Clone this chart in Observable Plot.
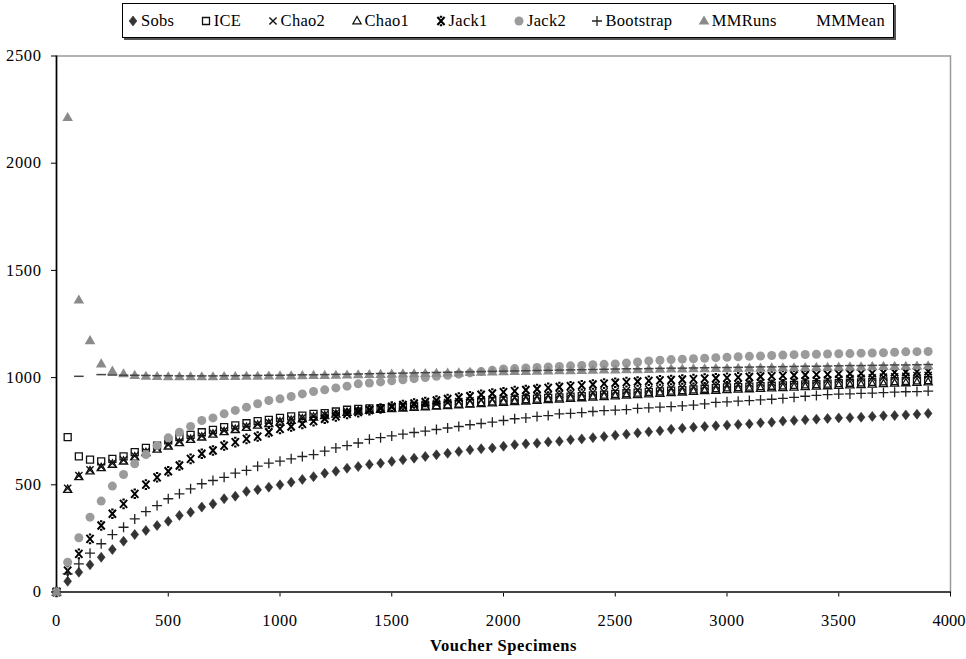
<!DOCTYPE html>
<html><head><meta charset="utf-8">
<script src="https://cdn.jsdelivr.net/npm/d3@7"></script>
<script src="https://cdn.jsdelivr.net/npm/@observablehq/plot@0.6"></script>
<style>
body{margin:0;background:#fff;font-family:"Liberation Serif","Times New Roman",serif;}
#wrap{position:relative;width:966px;height:659px;overflow:hidden;background:#fff}
#legend{position:absolute;left:122px;top:3px;width:772px;height:35px;border:1.5px solid #000;box-shadow:2px 2px 0 #555;display:flex;align-items:center;justify-content:space-between;padding:0 8px 0 4px;box-sizing:border-box;font-size:16.5px;letter-spacing:0.3px;color:#000}
.item{display:flex;align-items:center;white-space:nowrap}
.item svg{margin-right:2px;overflow:visible}
#chart{position:absolute;left:0;top:45px}
#chart svg text{letter-spacing:0.6px}
</style></head><body>
<div id="wrap"><div id="legend"></div><div id="chart"></div></div>
<script>
const specimens = [0,50,100,150,200,250,300,350,400,450,
 500,550,600,650,700,750,800,850,900,950,
 1000,1050,1100,1150,1200,1250,1300,1350,1400,1450,
 1500,1550,1600,1650,1700,1750,1800,1850,1900,1950,
 2000,2050,2100,2150,2200,2250,2300,2350,2400,2450,
 2500,2550,2600,2650,2700,2750,2800,2850,2900,2950,
 3000,3050,3100,3150,3200,3250,3300,3350,3400,3450,
 3500,3550,3600,3650,3700,3750,3800,3850,3900];

const sobs = [0,50,92,127,162,198,237,268,287,310,
 330,357,372,396,411,435,447,469,477,489,
 500,512,525,538,554,563,577,585,595,601,
 609,617,624,632,640,647,655,663,668,672,
 680,687,691,694,700,703,710,714,720,725,
 731,736,742,747,752,759,764,769,772,775,
 778,781,784,789,792,797,800,803,806,809,
 812,813,815,819,822,823,826,829,833];

const ice = [0,722,633,617,609,621,633,652,672,683,
 707,722,733,745,756,769,777,787,797,803,
 812,819,823,831,834,842,850,854,856,858,
 860,863,866,869,872,875,878,881,885,889,
 893,896,899,902,905,908,911,914,917,921,
 924,927,930,933,936,939,942,945,948,951,
 954,956,958,960,962,964,966,968,970,972,
 974,976,978,980,982,984,985,987,988];

const chao2 = [0,484,543,570,585,601,616,635,655,671,
 686,702,717,728,741,753,763,773,783,791,
 798,806,813,821,828,835,842,848,852,857,
 862,866,871,875,880,884,888,892,896,900,
 904,908,912,915,918,922,925,928,931,934,
 937,940,943,946,949,952,955,958,961,964,
 967,969,972,975,977,980,982,985,987,990,
 992,995,997,999,1002,1004,1006,1009,1011];

const chao1 = [0,478,537,564,579,595,610,629,649,665,
 680,696,711,722,735,747,757,767,777,785,
 792,800,807,815,822,829,837,843,848,851,
 854,857,860,863,866,869,872,875,878,881,
 884,887,890,893,896,899,902,905,908,911,
 914,917,920,923,926,929,932,935,938,940,
 943,945,947,949,951,953,955,957,959,961,
 963,965,967,969,971,973,975,977,979];

const jack1 = [0,100,178,248,310,365,411,458,501,535,
 563,590,621,645,660,683,699,714,725,745,
 761,772,784,797,808,819,831,839,848,856,
 865,872,879,886,893,900,907,913,920,926,
 932,937,942,947,952,956,960,964,968,972,
 976,979,982,985,987,989,991,993,995,997,
 999,1001,1003,1005,1007,1009,1011,1012,1014,1015,
 1017,1018,1020,1021,1023,1024,1026,1027,1029];

const jack2 = [0,139,253,349,424,494,548,598,641,683,
 719,745,772,800,812,831,847,862,878,893,
 901,912,924,935,943,952,960,971,975,980,
 985,990,995,1000,1006,1011,1016,1022,1028,1034,
 1040,1042,1045,1047,1050,1052,1055,1057,1060,1062,
 1064,1068,1073,1078,1081,1084,1086,1088,1090,1093,
 1095,1097,1099,1101,1103,1105,1107,1108,1109,1110,
 1111,1112,1114,1115,1116,1118,1120,1121,1122];

const bootstrap = [0,85,131,181,225,268,302,341,375,403,
 435,458,481,505,520,535,554,567,587,601,
 610,621,632,641,657,672,683,695,712,720,
 728,736,744,750,758,765,772,780,786,792,
 800,808,812,819,823,831,833,837,842,846,
 848,851,856,859,862,865,868,872,877,884,
 887,890,893,896,899,903,908,913,917,921,
 923,924,926,928,930,932,934,935,937];

const mmRuns = [0,2213,1362,1172,1064,1030,1018,1010,1006,1005,
 1004,1004,1004,1004,1004,1005,1005,1006,1006,1007,
 1008,1008,1009,1010,1010,1011,1012,1013,1014,1015,
 1016,1017,1018,1019,1020,1021,1022,1024,1025,1026,
 1027,1028,1029,1030,1031,1032,1032,1033,1034,1035,
 1036,1037,1037,1038,1039,1040,1040,1041,1041,1042,
 1042,1043,1044,1044,1045,1046,1046,1047,1048,1048,
 1049,1050,1050,1051,1052,1052,1053,1054,1055];

const mmMean = [null,null,1006,null,1014,1012,1011,1011,1010,1009,
 1009,1008,1008,1008,1008,1009,1009,1010,1010,1011,
 1011,1012,1013,1013,1014,1015,1016,1017,1018,1019,
 1020,1021,1022,1023,1024,1025,1026,1027,1028,1029,
 1030,1031,1032,1033,1034,1035,1036,1037,1038,1039,
 1040,1041,1041,1042,1043,1044,1044,1045,1046,1047,
 1047,1048,1049,1050,1050,1051,1052,1053,1053,1054,
 1055,1056,1056,1057,1058,1059,1059,1060,1061];

const seriesNames = ["Sobs","ICE","Chao2","Chao1","Jack1","Jack2","Bootstrap","MMRuns","MMMean"];
const xTicks = [0,500,1000,1500,2000,2500,3000,3500,4000];
const yTicks = [0,500,1000,1500,2000,2500];
const xLabel = "Voucher Specimens";

// marker shapes (d3 symbol types)
const symDiamond = {draw(c){c.moveTo(0,-5);c.lineTo(3.9,0);c.lineTo(0,5);c.lineTo(-3.9,0);c.closePath();}};
const symSquare = {draw(c){c.rect(-3.5,-3.5,7,7);}};
const symTimes = {draw(c){c.moveTo(-3.6,-3.6);c.lineTo(3.6,3.6);c.moveTo(3.6,-3.6);c.lineTo(-3.6,3.6);}};
const symTriOpen = {draw(c){c.moveTo(0,-4.5);c.lineTo(4.1,2.8);c.lineTo(-4.1,2.8);c.closePath();}};
const symStar = {draw(c){c.moveTo(-3.6,-4);c.lineTo(3.6,4);c.moveTo(3.6,-4);c.lineTo(-3.6,4);c.moveTo(-1.2,-4.3);c.lineTo(1.2,-4.3);c.moveTo(-1.2,4.3);c.lineTo(1.2,4.3);}};
const symCircle = {draw(c){c.moveTo(4.5,0);c.arc(0,0,4.5,0,2*Math.PI);}};
const symPlus = {draw(c){c.moveTo(-5,0);c.lineTo(5,0);c.moveTo(0,-5);c.lineTo(0,5);}};
const symTriFill = {draw(c){c.moveTo(0,-5.6);c.lineTo(5.3,3.5);c.lineTo(-5.3,3.5);c.closePath();}};
const symDash = {draw(c){c.moveTo(-4.8,0);c.lineTo(4.8,0);}};

const styles = [
  {values:sobs, symbol:symDiamond, fill:"#333", stroke:"#333", sw:0.6},
  {values:ice, symbol:symSquare, fill:"none", stroke:"#111", sw:1.3},
  {values:chao2, symbol:symTimes, fill:"none", stroke:"#111", sw:1.4},
  {values:chao1, symbol:symTriOpen, fill:"none", stroke:"#111", sw:1.3},
  {values:jack1, symbol:symStar, fill:"none", stroke:"#000", sw:2},
  {values:jack2, symbol:symCircle, fill:"#9b9b9b", stroke:"none", sw:0},
  {values:bootstrap, symbol:symPlus, fill:"none", stroke:"#222", sw:1.3},
  {values:mmRuns, symbol:symTriFill, fill:"#8a8a8a", stroke:"none", sw:0},
  {values:mmMean, symbol:symDash, fill:"none", stroke:"#444", sw:1.5}
];

const dotMarks = styles.map((s, k) => {
  const rows = specimens.map((x, i) => ({x, v: s.values[i], series: seriesNames[k]})).filter(d => d.v != null);
  return Plot.dot(rows, {x: "x", y: "v", symbol: s.symbol, r: 4, fill: s.fill, stroke: s.stroke, strokeWidth: s.sw});
});

const chart = Plot.plot({
  width: 966, height: 614,
  marginLeft: 56, marginRight: 16, marginTop: 10.5, marginBottom: 67.5,
  style: {fontFamily: "'Liberation Serif','Times New Roman',serif", fontSize: "16.5px", color: "#000", background: "white"},
  x: {domain: [0, 4000]},
  y: {domain: [0, 2500]},
  marks: [
    Plot.frame({stroke: "#9a9a9a", strokeWidth: 1.5}),
    Plot.axisY({ticks: yTicks, tickSize: 5, tickPadding: 10, tickFormat: d => String(d), label: null}),
    Plot.axisX({ticks: xTicks, tickSize: 5, tickPadding: 17, tickFormat: d => String(d), label: null}),
    Plot.ruleX([0], {stroke: "#000", strokeWidth: 1.6}),
    Plot.ruleY([0], {stroke: "#444", strokeWidth: 2}),
    ...dotMarks,
    Plot.text([xLabel], {frameAnchor: "bottom", dy: 59, text: d => d, fontWeight: "bold", fontSize: 16.5})
  ]
});
document.getElementById("chart").appendChild(chart);

// keep the last x tick label inside the page
const xLabels = chart.querySelectorAll("g[aria-label='x-axis tick label'] text");
if (xLabels.length) {
  const last = xLabels[xLabels.length - 1];
  last.setAttribute("text-anchor", "end");
  last.setAttribute("dx", "15");
  last.style.letterSpacing = "0px";
}

// legend
const legend = document.getElementById("legend");
styles.forEach((s, k) => {
  const item = document.createElement("div");
  item.className = "item";
  const path = d3.symbol(s.symbol, 50)();
  const showSym = seriesNames[k] !== "MMMean";
  item.innerHTML = `<svg width="12" height="14" viewBox="-6 -7 12 14">${showSym ? `<path d="${path}" fill="${s.fill}" stroke="${s.stroke}" stroke-width="${s.sw}"/>` : ""}</svg><span>${seriesNames[k]}</span>`;
  legend.appendChild(item);
});
</script>
</body></html>
